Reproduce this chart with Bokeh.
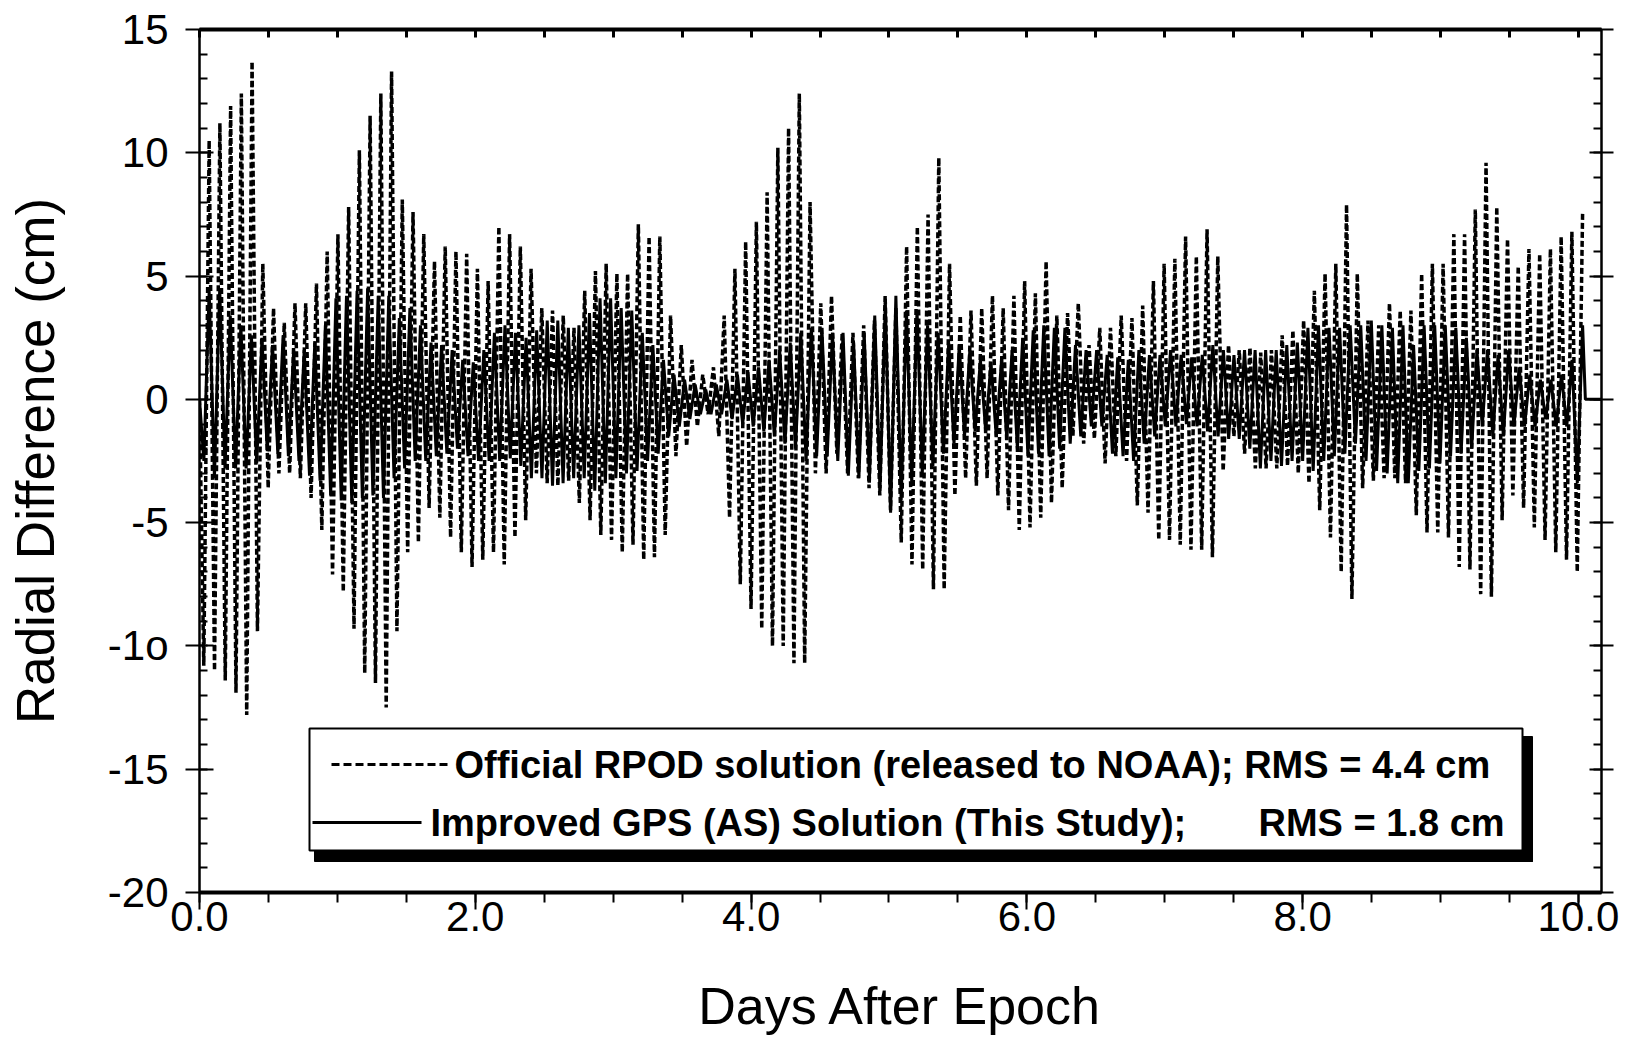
import numpy as np
from bokeh.plotting import figure
from bokeh.models import Range1d, LinearAxis, FixedTicker, CustomJSTickFormatter
from bokeh.core.properties import value
from bokeh.embed import file_html
from bokeh.resources import INLINE

# ---------------- data ----------------
X_TICKS = [0, 2, 4, 6, 8, 10]
X_TICK_LABELS = ["0.0", "2.0", "4.0", "6.0", "8.0", "10.0"]
Y_TICKS = [-20, -15, -10, -5, 0, 5, 10, 15]
Y_TICK_LABELS = ["-20", "-15", "-1o", "-5", "0", "5", "10", "15"]
X_TITLE = "Days After Epoch"
Y_TITLE = "Radial Difference (cm)"

# Official RPOD solution (dashed): successive orbit maxima / minima, cm
RPOD_PEAKS = [
    10.5, 11.2, 11.9, 12.4, 13.7, 5.5, 3.7, 3.1, 3.9, 3.9, 4.7, 6.0, 6.7, 7.8, 10.1, 11.5, 12.4, 13.3,
    8.1, 7.6, 6.7, 5.6, 6.2, 6.0, 5.9, 5.3, 4.8, 7.0, 6.7, 6.2, 5.3, 3.7, 3.6, 3.4, 2.9, 4.4, 5.2,
    5.5, 5.1, 5.1, 7.1, 6.6, 6.6, 3.4, 2.2, 1.6, 1.0, 1.3, 3.4, 5.3, 6.4, 7.2, 8.4, 10.2, 11.0, 12.4,
    8.0, 3.9, 4.2, 2.7, 2.7, 3.0, 3.2, 4.2, 3.7, 6.2, 7.0, 7.5, 9.8, 5.5, 3.4, 3.6, 3.7, 4.2, 3.7,
    4.2, 4.8, 4.3, 5.6, 3.4, 3.5, 3.9, 2.2, 2.9, 2.9, 3.4, 3.3, 3.8, 4.8, 5.5, 5.7, 6.6, 5.8,
    6.9, 5.8, 2.2, 2.0, 2.1, 1.9, 2.0, 2.6, 2.8, 3.2, 4.4, 5.1, 5.5, 7.9, 5.1, 3.2, 3.0, 3.9, 3.6,
    3.6, 5.1, 5.5, 5.5, 6.7, 6.7, 7.7, 9.6, 7.8, 6.5, 5.4, 6.1, 5.9, 6.1, 6.6, 6.8, 7.6,
]
RPOD_TROUGHS = [
    -10.8, -11.0, -11.4, -11.9, -12.8, -9.4, -3.6, -3.0, -3.0, -3.2, -4.0, -5.3, -7.1, -7.8, -9.3, -11.1, -11.5, -12.5, -9.4,
    -6.2, -5.8, -4.4, -4.8, -5.6, -6.2, -6.8, -6.5, -6.2, -6.7, -5.6, -4.9, -3.0, -3.4, -3.5, -3.3, -4.2, -4.9, -5.5,
    -5.7, -6.2, -5.9, -6.5, -6.4, -5.5, -2.3, -1.9, -1.1, -0.6, -1.5, -4.8, -7.5, -8.5, -9.3, -10.0, -10.0, -10.7, -10.7,
    -3.0, -3.0, -2.2, -3.0, -3.2, -3.6, -3.9, -4.5, -5.8, -6.7, -6.9, -7.7, -7.7, -3.9, -3.2, -3.5, -3.2, -3.9,
    -4.5, -5.3, -5.2, -4.8, -4.2, -3.6, -1.5, -1.8, -1.6, -2.6, -2.3, -2.5, -4.3, -4.6, -5.7, -5.7, -5.9, -6.1, -6.1,
    -6.4, -2.9, -1.5, -2.2, -2.8, -2.8, -2.8, -2.7, -3.0, -3.4, -4.5, -5.6, -7.0, -8.1, -3.6, -3.3, -3.2, -3.2,
    -3.4, -4.7, -5.4, -5.4, -5.6, -6.8, -6.9, -7.9, -8.0, -4.9, -3.9, -4.4, -5.2, -5.7, -6.2, -6.5, -7.0,
]
RPOD_FIRST_DAY, RPOD_LAST_DAY = 0.07, 10.03

# Improved GPS (AS) solution (solid): successive orbit maxima / minima, cm
GPS_PEAKS = [
    4.4, 4.5, 3.4, 3.0, 2.6, 2.5, 2.2, 2.6, 2.0, 2.0, 2.3, 3.0, 4.1, 4.2, 4.4, 4.5, 4.2, 4.2,
    3.3, 3.7, 3.0, 2.3, 2.2, 2.0, 1.6, 1.5, 2.0, 2.7, 3.0, 2.7, 2.5, 2.8, 3.2, 3.2, 2.9, 3.0, 3.5,
    4.1, 4.1, 3.7, 3.6, 2.7, 2.2, 1.6, 1.0, 0.8, 0.6, 0.4, 0.6, 0.8, 1.0, 1.1, 1.3, 1.6, 2.0, 2.3, 2.7,
    2.9, 2.9, 2.7, 2.7, 2.3, 2.7, 3.4, 3.9, 4.2, 3.6, 3.6, 3.0, 2.7, 2.3, 2.2, 2.0, 1.6, 1.5, 1.6, 2.0,
    2.5, 2.8, 3.0, 2.9, 2.9, 2.2, 2.0, 2.0, 1.8, 1.7, 1.6, 2.0, 1.8, 1.8, 2.0, 1.8, 1.7, 1.8,
    2.2, 2.0, 1.8, 2.0, 2.0, 2.0, 2.0, 2.2, 2.3, 2.9, 3.0, 2.9, 2.9, 3.0, 3.0, 3.2, 3.0, 2.9, 3.0,
    2.2, 3.0, 3.0, 3.0, 2.9, 2.5, 2.0, 2.0, 1.8, 2.0, 1.3, 1.0, 0.8, 0.8, 1.0, 1.6, 3.0,
]
GPS_TROUGHS = [
    -2.5, -3.2, -2.8, -2.8, -2.8, -2.6, -2.1, -2.2, -2.3, -2.5, -3.1, -3.3, -3.9, -4.1, -4.2, -4.0, -3.9, -4.0,
    -3.2, -2.8, -2.5, -2.5, -2.3, -2.2, -2.0, -2.3, -2.5, -2.5, -2.5, -2.4, -2.7, -3.2, -3.2, -3.5, -3.4, -3.2, -3.2,
    -3.7, -3.4, -3.2, -3.0, -2.9, -2.5, -2.2, -1.5, -1.1, -0.8, -0.6, -0.6, -0.6, -0.8, -1.0, -1.1, -1.3, -1.5, -1.8, -2.0,
    -2.5, -2.3, -2.3, -2.5, -3.1, -3.2, -3.2, -3.6, -4.6, -4.1, -3.4, -3.0, -2.7, -2.2, -1.8, -1.5, -1.3, -1.3, -1.5, -1.6, -2.0,
    -2.3, -2.2, -2.3, -2.0, -1.8, -1.5, -1.1, -1.1, -2.2, -2.3, -2.5, -1.8, -1.5, -1.1, -1.1, -1.0, -1.1, -1.3,
    -1.5, -1.6, -1.6, -2.0, -2.8, -2.5, -2.7, -2.5, -2.5, -2.9, -2.5, -2.3, -2.2, -1.8, -2.5, -2.9, -3.0, -3.4,
    -3.4, -2.9, -2.8, -2.6, -2.3, -2.2, -2.0, -1.1, -1.5, -1.5, -1.1, -1.1, -1.1, -0.8, -1.1, -1.1, -3.4,
]
GPS_FIRST_DAY, GPS_LAST_DAY = 0.07, 10.03
GPS_TAIL_DAYS = [10.05, 10.17]
GPS_TAIL_VALUES = [0.0, 0.0]

LEGEND_RPOD = "Official RPOD solution (released to NOAA); RMS = 4.4 cm"
LEGEND_GPS = "Improved GPS (AS) Solution (This Study);"
LEGEND_GPS_RMS = "RMS = 1.8 cm"


def orbit_path(peaks, troughs, first_day, last_day):
    """Alternate troughs and peaks of each orbit along the time axis."""
    n = min(len(peaks), len(troughs))
    tp = np.linspace(first_day, last_day, n)
    half = (last_day - first_day) / (n - 1) / 2.0
    xs, ys = [0.0], [0.0]
    for i in range(n):
        xs += [tp[i] - half, tp[i]]
        ys += [troughs[i], peaks[i]]
    return xs, ys


# ---------------- layout ----------------
W, H = 1622, 1041
FL, FR, FT, FB = 199, 1601, 29, 892
X_END = 10.167
Y_MIN, Y_MAX = -20, 15
FONT = "Liberation Sans"


def dx(px):
    return (px - FL) / (FR - FL) * X_END


def dy(py):
    return Y_MAX - (py - FT) / (FB - FT) * (Y_MAX - Y_MIN)


def fmt(ticks, labels):
    return CustomJSTickFormatter(
        args=dict(vals=list(ticks), labs=list(labels)),
        code="for (let j = 0; j < vals.length; j++) { if (Math.abs(vals[j] - tick) < 1e-6) return labs[j]; } return '';",
    )


p = figure(
    width=W, height=H,
    x_range=Range1d(0, X_END), y_range=Range1d(Y_MIN, Y_MAX),
    output_backend="svg", toolbar_location=None,
    min_border_left=FL, min_border_right=W - FR, min_border_top=FT, min_border_bottom=H - FB,
)
p.background_fill_color = "white"
p.border_fill_color = "white"
p.outline_line_color = "black"
p.outline_line_width = 2
p.grid.visible = False

half_steps = [i * 0.5 for i in range(21)]
cm_steps = list(range(Y_MIN, Y_MAX + 1))

xa = p.xaxis[0]
xa.ticker = FixedTicker(ticks=X_TICKS, minor_ticks=half_steps)
xa.formatter = fmt(X_TICKS, X_TICK_LABELS)
xa.axis_line_width = 4
xa.major_tick_out = 17
xa.major_tick_in = 0
xa.major_tick_line_width = 2
xa.minor_tick_out = 10
xa.minor_tick_in = 0
xa.minor_tick_line_width = 2
xa.major_label_standoff = -8
xa.major_label_text_font = FONT
xa.major_label_text_font_size = "42px"
xa.major_label_text_color = "black"
xa.axis_label = X_TITLE
xa.axis_label_text_font = FONT
xa.axis_label_text_font_size = "52px"
xa.axis_label_text_font_style = "normal"
xa.axis_label_text_color = "black"
xa.axis_label_standoff = 43

ya = p.yaxis[0]
ya.ticker = FixedTicker(ticks=Y_TICKS, minor_ticks=cm_steps)
ya.formatter = fmt(Y_TICKS, Y_TICK_LABELS)
ya.axis_line_width = 2
ya.major_tick_out = 14
ya.major_tick_in = 14
ya.major_tick_line_width = 2
ya.minor_tick_out = 0
ya.minor_tick_in = 8
ya.minor_tick_line_width = 2
ya.major_label_standoff = 17
ya.major_label_text_font = FONT
ya.major_label_text_font_size = "42px"
ya.major_label_text_color = "black"
ya.axis_label = Y_TITLE
ya.axis_label_text_font = FONT
ya.axis_label_text_font_size = "53px"
ya.axis_label_text_font_style = "normal"
ya.axis_label_text_color = "black"
ya.axis_label_standoff = 40

top = LinearAxis(
    ticker=FixedTicker(ticks=half_steps), formatter=fmt([], []),
    axis_line_width=4, major_tick_in=8, major_tick_out=0, major_tick_line_width=3,
    minor_tick_in=0, minor_tick_out=0, major_label_text_font_size="0px", major_label_standoff=0,
)
p.add_layout(top, "above")

right = LinearAxis(
    ticker=FixedTicker(ticks=Y_TICKS, minor_ticks=cm_steps), formatter=fmt([], []),
    axis_line_width=2, major_tick_in=12, major_tick_out=12, major_tick_line_width=2,
    minor_tick_in=8, minor_tick_out=0, minor_tick_line_width=2,
    major_label_text_font_size="0px", major_label_standoff=0,
)
p.add_layout(right, "right")

# ---------------- data lines ----------------
gx, gy = orbit_path(GPS_PEAKS, GPS_TROUGHS, GPS_FIRST_DAY, GPS_LAST_DAY)
gx += GPS_TAIL_DAYS
gy += GPS_TAIL_VALUES
p.line(gx, gy, line_color="black", line_width=3)

rx, ry = orbit_path(RPOD_PEAKS, RPOD_TROUGHS, RPOD_FIRST_DAY, RPOD_LAST_DAY)
p.line(rx, ry, line_color="black", line_width=3.5, line_dash="6 3")

# ---------------- legend box ----------------
p.quad(left=[dx(314)], right=[dx(1532)], top=[dy(849)], bottom=[dy(861)],
       fill_color="black", line_color="black")
p.quad(left=[dx(1520)], right=[dx(1532)], top=[dy(736)], bottom=[dy(861)],
       fill_color="black", line_color="black")
p.quad(left=[dx(309)], right=[dx(1522)], top=[dy(728)], bottom=[dy(850)],
       fill_color="white", line_color="black", line_width=2)

p.line([dx(331), dx(447)], [dy(764), dy(764)], line_color="black", line_width=3, line_dash="8 4")
p.line([dx(312), dx(421)], [dy(822), dy(822)], line_color="black", line_width=3)

common = dict(text_font=value(FONT), text_font_style="bold", text_font_size="38px",
              text_baseline="middle", text_align="left", text_color="black")
p.text(x=[dx(454)], y=[dy(764)], text=[LEGEND_RPOD], **common)
p.text(x=[dx(430)], y=[dy(822)], text=[LEGEND_GPS], **common)
p.text(x=[dx(1258)], y=[dy(822)], text=[LEGEND_GPS_RMS], **common)

open("out.html", "w").write(file_html(p, INLINE))
